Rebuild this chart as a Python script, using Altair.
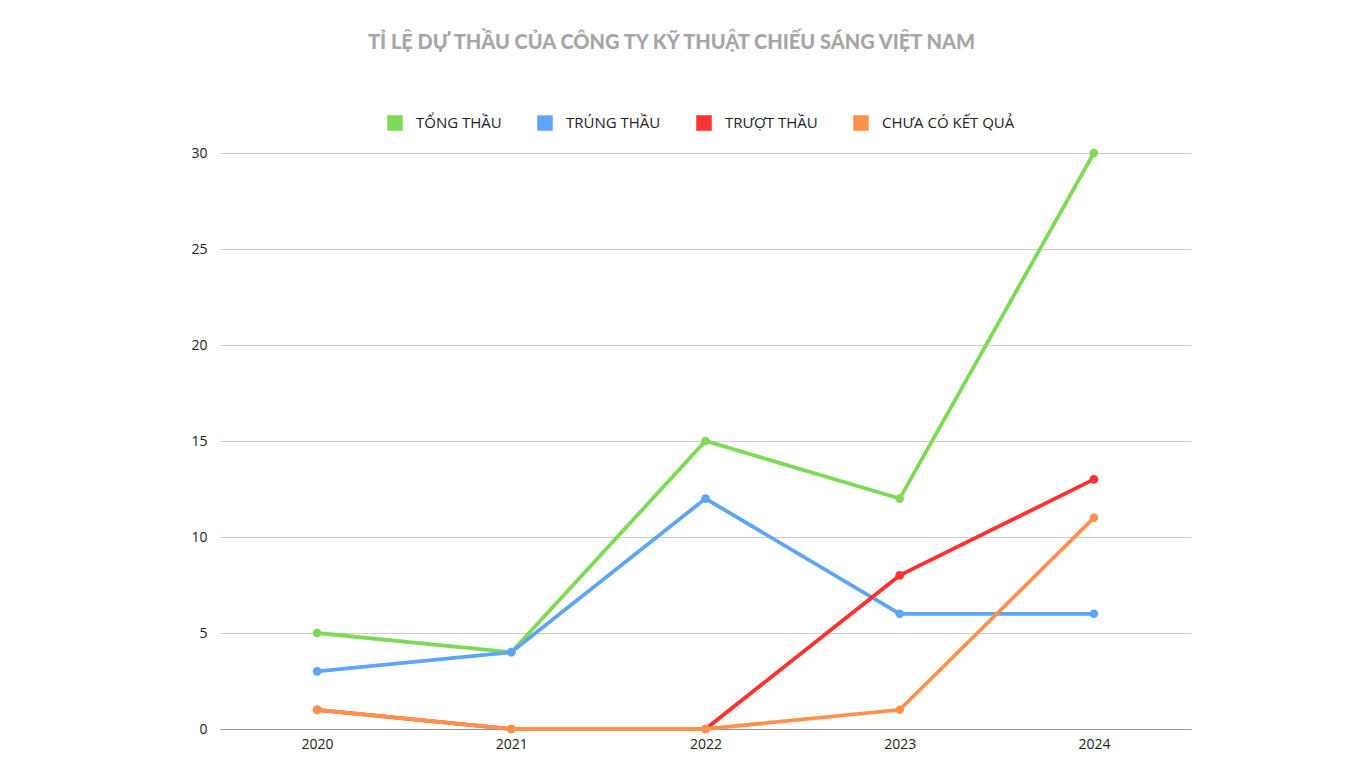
import altair as alt
import pandas as pd

years = ["2020", "2021", "2022", "2023", "2024"]
series_names = ["TỔNG THẦU", "TRÚNG THẦU", "TRƯỢT THẦU", "CHƯA CÓ KẾT QUẢ"]
tong_thau = [5, 4, 15, 12, 30]
trung_thau = [3, 4, 12, 6, 6]
truot_thau = [1, 0, 0, 8, 13]
chua_co = [1, 0, 0, 1, 11]
colors = ["#7ed957", "#5ea4f7", "#ff3131", "#ff914d"]

rows = []
for i, (name, vals) in enumerate(zip(series_names, [tong_thau, trung_thau, truot_thau, chua_co])):
    for y, v in zip(years, vals):
        rows.append({"year": y, "series": name, "value": v, "order": i})
df = pd.DataFrame(rows)

FONT = "Open Sans"

x = alt.X("year:N", sort=years, scale=alt.Scale(type="point", padding=0.5),
          axis=alt.Axis(title=None, labelAngle=0, ticks=False, grid=False, domain=True,
                        domainColor="#999999", labelFont=FONT, labelFontSize=14,
                        labelColor="#222222", labelPadding=8))
y = alt.Y("value:Q", scale=alt.Scale(domain=[0, 30]),
          axis=alt.Axis(title=None, values=[0, 5, 10, 15, 20, 25, 30], ticks=False, domain=False,
                        gridColor="#cccccc", labelFont=FONT, labelFontSize=14,
                        labelColor="#222222", labelPadding=13))
color = alt.Color("series:N", sort=series_names,
                  scale=alt.Scale(domain=series_names, range=colors),
                  legend=alt.Legend(title=None, orient="none", direction="horizontal",
                                    legendX=167, legendY=-38, symbolType="square",
                                    symbolSize=240, symbolStrokeWidth=0, symbolOpacity=1,
                                    labelFont=FONT, labelFontSize=15, labelColor="#222222",
                                    columnPadding=35, labelOffset=13))

layers = []
for name in series_names:
    sub = df[df["series"] == name]
    layers.append(alt.Chart(sub).mark_line(strokeWidth=3.8).encode(x=x, y=y, color=color))
    layers.append(alt.Chart(sub).mark_circle(size=75, opacity=1).encode(x=x, y=y, color=color))

chart = alt.layer(*layers).properties(
    width=971, height=576,
    padding={"left": 212, "top": 145, "right": 10, "bottom": 35},
    autosize=alt.AutoSizeParams(type="none"),
    title=alt.TitleParams("TỈ LỆ DỰ THẦU CỦA CÔNG TY KỸ THUẬT CHIẾU SÁNG VIỆT NAM",
                          font="Lato", fontSize=20, fontWeight=900, color="#a6a6a6",
                          anchor="middle", offset=62, dx=-34, frame="group"),
).configure_view(stroke=None)

chart.save("out.html", embed_options={"renderer": "svg", "actions": False})
